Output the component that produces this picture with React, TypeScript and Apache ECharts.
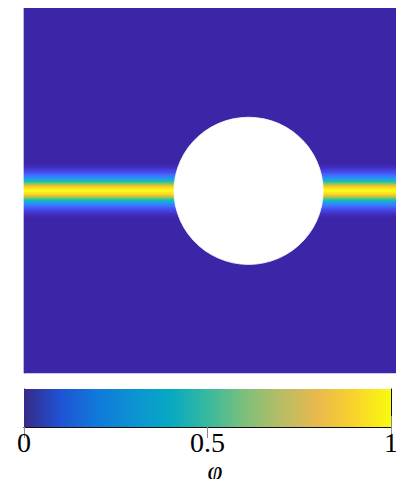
import React, { useEffect, useRef } from "react";
import * as echarts from "echarts";

// Colormap used for the field (parula, 0 -> 1)
const fieldColors = [
  "#3e26a8", "#4741e5", "#4269fe", "#2d8cf3", "#1ca9df", "#18bfb6",
  "#4acb84", "#9dc943", "#e6bb2d", "#f9d62d", "#f9fb15",
];
// Colormap shown in the colorbar (parula, 0 -> 1)
const colorbarColors = [
  "#352a87", "#2053d4", "#1079da", "#0c93d2", "#07a9c2", "#37b99e",
  "#7cbf7b", "#b7bd64", "#e9b94e", "#f9d32a", "#f9fb0e",
];

// Phase field: number of rows over the domain height, crack row, and phi vs row distance from crack
const nRows = 368;
const crackRow = 182;
const crackProfile = [
  1.0, 0.98, 0.95, 0.91, 0.87, 0.82, 0.75, 0.67, 0.59, 0.52, 0.45, 0.4, 0.35,
  0.31, 0.27, 0.23, 0.2, 0.17, 0.14, 0.12, 0.1, 0.08, 0.06, 0.04, 0.03, 0.02, 0.01,
];

// Circular hole (domain units)
const holeCenter = [0.602, 0.495];
const holeRadius = 0.2;

// Colorbar
const colorbarRange = [0, 1];
const colorbarTicks = [0, 0.5, 1];
const colorbarLabel = "φ";

export default function App() {
  const ref = useRef<HTMLDivElement>(null);

  useEffect(() => {
    if (!ref.current) return;
    const chart = echarts.init(ref.current, undefined, { renderer: "svg" });

    const rowCats = Array.from({ length: nRows }, (_, i) => String(i));
    const heatData: number[][] = [];
    for (let i = 0; i < nRows; i++) {
      const d = Math.abs(i - crackRow);
      const v = d < crackProfile.length ? crackProfile[d] : 0;
      heatData.push([0, i, v]);
    }

    const serif = "'Liberation Serif', 'DejaVu Serif', serif";

    const option: any = {
      animation: false,
      backgroundColor: "#ffffff",
      grid: [
        { left: 24, top: 5, width: 373, height: 368 },
        { left: 24, top: 5, width: 373, height: 368 },
        { left: 24, top: 389, width: 367, height: 38 },
      ],
      xAxis: [
        { gridIndex: 0, type: "category", data: ["0"], show: false },
        { gridIndex: 1, type: "value", min: 0, max: 1, show: false },
        {
          gridIndex: 2,
          type: "value",
          min: 0,
          max: 1,
          interval: 0.5,
          position: "bottom",
          axisLine: { show: true, lineStyle: { color: "#111", width: 1 } },
          axisTick: { show: true, inside: true, length: 11, lineStyle: { color: "#8a8a8a" } },
          splitLine: { show: false },
          axisLabel: {
            margin: 3,
            fontSize: 28,
            lineHeight: 24,
            fontFamily: serif,
            color: "#000",
            formatter: (v: number) => (colorbarTicks.includes(v) ? String(v) : ""),
          },
          name: colorbarLabel,
          nameLocation: "middle",
          nameMoveOverlap: false,
          nameGap: 33,
          nameTextStyle: {
            fontSize: 27,
            lineHeight: 22,
            fontStyle: "italic",
            fontFamily: serif,
            color: "#000",
            align: "left",
          },
        },
        {
          gridIndex: 2,
          type: "value",
          min: 0,
          max: 1,
          interval: 0.5,
          position: "top",
          axisLine: { show: true, lineStyle: { color: "#111", width: 1 } },
          axisTick: { show: true, inside: true, length: 11, lineStyle: { color: "#8a8a8a" } },
          axisLabel: { show: false },
          splitLine: { show: false },
        },
      ],
      yAxis: [
        {
          gridIndex: 0,
          type: "category",
          data: rowCats,
          axisLine: { show: true, lineStyle: { color: "#7a7a7a", width: 1 } },
          axisTick: { show: false },
          axisLabel: { show: false },
        },
        { gridIndex: 1, type: "value", min: 0, max: 1, show: false },
        {
          gridIndex: 2,
          type: "value",
          min: 0,
          max: 1,
          position: "left",
          axisLine: { show: true, onZero: false, lineStyle: { color: "#111", width: 1 } },
          axisTick: { show: false },
          axisLabel: { show: false },
          splitLine: { show: false },
        },
        {
          gridIndex: 2,
          type: "value",
          min: 0,
          max: 1,
          position: "right",
          axisLine: { show: true, onZero: false, lineStyle: { color: "#111", width: 1 } },
          axisTick: { show: false },
          axisLabel: { show: false },
          splitLine: { show: false },
        },
      ],
      visualMap: {
        type: "continuous",
        show: false,
        min: 0,
        max: 1,
        seriesIndex: 0,
        dimension: 2,
        inRange: { color: fieldColors },
      },
      series: [
        {
          type: "heatmap",
          xAxisIndex: 0,
          yAxisIndex: 0,
          data: heatData,
          itemStyle: { borderWidth: 0 },
          emphasis: { disabled: true },
        },
        {
          type: "custom",
          xAxisIndex: 1,
          yAxisIndex: 1,
          data: [[holeCenter[0], holeCenter[1], holeRadius]],
          renderItem: (params: any, api: any) => {
            const cx = api.value(0);
            const cy = api.value(1);
            const r = api.value(2);
            const pts: number[][] = [];
            const n = 60;
            for (let k = 0; k < n; k++) {
              const t = (k / n) * Math.PI * 2;
              pts.push(api.coord([cx + r * Math.cos(t), cy + r * Math.sin(t)]));
            }
            return {
              type: "polygon",
              shape: { points: pts },
              style: { fill: "#ffffff", stroke: "#ffffff", lineWidth: 0.8 },
            };
          },
          z: 3,
        },
        {
          type: "custom",
          xAxisIndex: 2,
          yAxisIndex: 2,
          data: [[colorbarRange[0], colorbarRange[1]]],
          renderItem: (params: any, api: any) => {
            const p0 = api.coord([api.value(0), 0]);
            const p1 = api.coord([api.value(1), 1]);
            const stops = colorbarColors.map((c, i) => ({
              offset: i / (colorbarColors.length - 1),
              color: c,
            }));
            return {
              type: "rect",
              shape: { x: p0[0], y: p1[1], width: p1[0] - p0[0], height: p0[1] - p1[1] },
              style: { fill: new echarts.graphic.LinearGradient(0, 0, 1, 0, stops) },
            };
          },
          z: 1,
        },
      ],
    };

    chart.setOption(option);
    return () => chart.dispose();
  }, []);

  return <div ref={ref} style={{ width: 404, height: 487, margin: -8 }} />;
}
